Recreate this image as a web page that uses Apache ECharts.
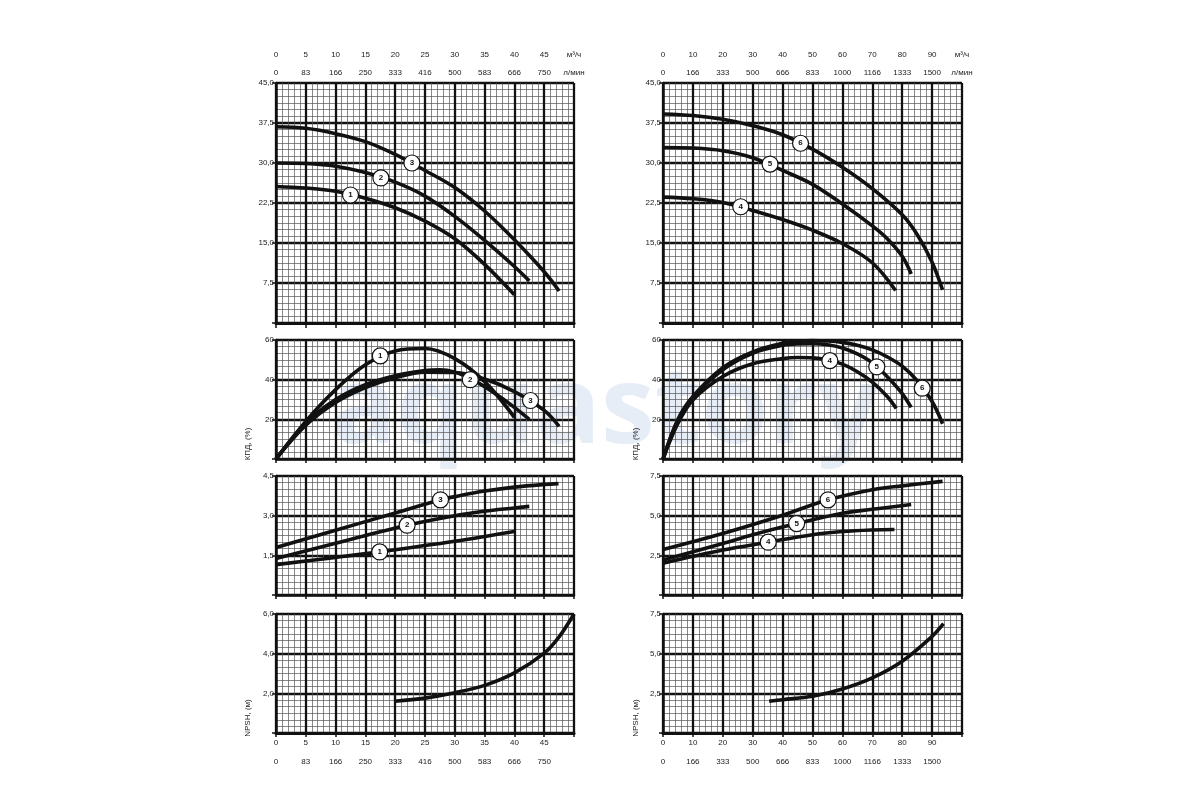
<!DOCTYPE html>
<html>
<head>
<meta charset="utf-8">
<script src="https://cdn.jsdelivr.net/npm/echarts@6.0.0/dist/echarts.min.js"></script>
<style>html,body{margin:0;background:#fff}#chart{width:1200px;height:800px}</style>
</head>
<body>
<div id="chart"></div>
<script>
// tick labels
var flowTicksL = ['0','5','10','15','20','25','30','35','40','45','м³/ч'];
var lpmTicksL = ['0','83','166','250','333','416','500','583','666','750','л/мин'];
var flowTicksR = ['0','10','20','30','40','50','60','70','80','90','м³/ч'];
var lpmTicksR = ['0','166','333','500','666','833','1000','1166','1333','1500','л/мин'];
var headTicks = ['','7,5','15,0','22,5','30,0','37,5','45,0'];
var effTicks = ['','20','40','60'];
var powTicksL = ['','1,5','3,0','4,5'];
var powTicksR = ['','2,5','5,0','7,5'];
var npshTicksL = ['','2,0','4,0','6,0'];
var npshTicksR = ['','2,5','5,0','7,5'];

// head H (m) vs Q (m3/h)
var head1 = [[0,25.6],[5,25.3],[10,24.7],[15,23.4],[20,21.6],[25,19.1],[30,15.8],[35,11.0],[40,5.3]];
var head2 = [[0,30.0],[5,29.9],[10,29.4],[15,28.2],[20,26.4],[25,23.8],[30,20.0],[35,15.5],[40,10.6],[42.5,7.9]];
var head3 = [[0,36.8],[5,36.5],[10,35.5],[15,34.0],[20,31.6],[25,28.6],[30,25.4],[35,21.0],[40,15.6],[45,9.6],[47.5,6.0]];
var head4 = [[0,23.6],[10,23.3],[20,22.6],[30,21.1],[40,19.4],[50,17.4],[60,14.9],[70,11.3],[77.8,6.1]];
var head5 = [[0,32.9],[10,32.8],[20,32.3],[30,31.0],[40,28.6],[50,26.0],[60,22.3],[70,18.2],[75,15.8],[80,12.5],[83,9.2]];
var head6 = [[0,39.2],[10,38.9],[20,38.2],[30,37.0],[40,35.3],[50,32.6],[60,29.2],[70,25.2],[80,20.3],[85,16.6],[90,11.4],[93.5,6.2]];

// efficiency (%)
var eff1 = [[0,0],[5,19],[10,35],[15,47.5],[20,54.5],[25,55.7],[30,50.6],[35,39],[40,21]];
var eff2 = [[0,0],[5,18],[10,30],[15,37.5],[20,42],[25,44.6],[27.5,45],[30,43.8],[32.5,40.6],[35,36.5],[37.5,31.5],[40,26],[42.5,20]];
var eff3 = [[0,0],[5,17],[10,28.5],[15,36],[20,41],[25,43.8],[30,43.6],[35,40.3],[40,34],[45,24.5],[47.5,16.5]];
var eff4 = [[0,0],[5,18],[10,29.8],[20,41.6],[30,48],[40,50.6],[45,51.2],[50,51],[55,49.9],[60,47.8],[65,44],[70,38.8],[75,31.5],[78,25.5]];
var eff5 = [[0,0],[5,19.5],[10,31],[20,45],[30,53.3],[40,57.3],[45,58],[50,58.1],[55,57.6],[60,56],[65,53],[70,48.5],[75,41.5],[80,33],[83,26]];
var eff6 = [[0,0],[5,20],[10,31.5],[20,46],[30,54],[40,58.3],[45,59.3],[50,59.7],[55,59.5],[60,58.8],[65,57.3],[70,55],[75,51.5],[80,46.8],[85,39.5],[90,29],[93.5,17.8]];

// power (kW)
var pow1 = [[0,1.15],[10,1.42],[17.4,1.63],[30,2.03],[40,2.4]];
var pow2 = [[0,1.38],[10,1.96],[22,2.64],[30,3.0],[35,3.17],[40,3.29],[42.5,3.35]];
var pow3 = [[0,1.8],[10,2.45],[20,3.1],[27.6,3.6],[30,3.72],[35,3.93],[40,4.08],[45,4.18],[47.4,4.21]];
var pow4 = [[0,2.0],[20,2.83],[35.2,3.33],[50,3.8],[60,4.0],[70,4.1],[77.4,4.13]];
var pow5 = [[0,2.2],[20,3.25],[30,3.8],[44.7,4.5],[60,5.15],[70,5.4],[83,5.7]];
var pow6 = [[0,2.87],[20,3.88],[40,5.03],[55.2,6.0],[70,6.64],[80,6.88],[93.5,7.16]];

// NPSH (m)
var npshL = [[19.9,1.6],[25,1.76],[30,2.03],[35,2.4],[40,3.03],[45,4.03],[47.5,4.85],[50,6.0]];
var npshR = [[35.5,2.0],[40,2.1],[50,2.31],[60,2.77],[70,3.47],[80,4.52],[90,6.09],[93.8,6.89]];

// curve number badges
var headMarksL = [[12.5,24,'1'],[17.6,27.2,'2'],[22.8,30,'3']];
var headMarksR = [[26,21.8,'4'],[35.8,29.8,'5'],[46,33.7,'6']];
var effMarksL = [[17.5,52,'1'],[32.6,40,'2'],[42.7,29.5,'3']];
var effMarksR = [[55.8,49.6,'4'],[71.5,46.5,'5'],[86.7,35.7,'6']];
var powMarksL = [[17.4,1.63,'1'],[22,2.64,'2'],[27.6,3.6,'3']];
var powMarksR = [[35.2,3.33,'4'],[44.7,4.5,'5'],[55.2,6.0,'6']];

var FONT = 'Liberation Sans';
var INK = '#111';
var cols = [{left: 276, width: 298, max: 50, step: 5, flow: flowTicksL, lpm: lpmTicksL},
            {left: 663, width: 299, max: 100, step: 10, flow: flowTicksR, lpm: lpmTicksR}];
var rows = [{top: 83, height: 240}, {top: 340, height: 119}, {top: 476, height: 119}, {top: 614, height: 119}];
var yDefs = [
  [{max: 45, step: 7.5, ticks: headTicks}, {max: 60, step: 20, ticks: effTicks}, {max: 4.5, step: 1.5, ticks: powTicksL}, {max: 6, step: 2, ticks: npshTicksL}],
  [{max: 45, step: 7.5, ticks: headTicks}, {max: 60, step: 20, ticks: effTicks}, {max: 7.5, step: 2.5, ticks: powTicksR}, {max: 7.5, step: 2.5, ticks: npshTicksR}]
];

var grids = [], xAxes = [], yAxes = [], series = [];
var lbl = {fontFamily: FONT, fontSize: 8, color: '#222'};

cols.forEach(function (c, ci) {
  rows.forEach(function (r, ri) {
    var g = grids.length;
    grids.push({left: c.left, top: r.top, width: c.width, height: r.height});
    var yd = yDefs[ci][ri];
    var isBottom = ri === 3;
    xAxes[g] = {
      type: 'value', gridIndex: g, min: 0, max: c.max, interval: c.step,
      axisLine: {show: true, onZero: false, lineStyle: {color: INK, width: 2.5}},
      axisTick: {show: true, length: 4, lineStyle: {color: INK, width: 1.5}},
      axisLabel: Object.assign({show: isBottom, margin: 6,
        formatter: function (v) { var i = Math.round(v / c.step); return i < 10 ? c.flow[i] : ''; }}, lbl),
      splitLine: {show: true, lineStyle: {color: INK, width: 2.3}},
      minorTick: {show: false, splitNumber: 5},
      minorSplitLine: {show: true, lineStyle: {color: '#555', width: 0.7}}
    };
    yAxes[g] = {
      type: 'value', gridIndex: g, min: 0, max: yd.max, interval: yd.step,
      axisLine: {show: true, onZero: false, lineStyle: {color: INK, width: 2.5}},
      axisTick: {show: true, length: 4, lineStyle: {color: INK, width: 1.5}},
      axisLabel: Object.assign({margin: 2,
        formatter: function (v) { return yd.ticks[Math.round(v / yd.step)]; }}, lbl),
      splitLine: {show: true, lineStyle: {color: INK, width: 2.3}},
      minorTick: {show: false, splitNumber: 6},
      minorSplitLine: {show: true, lineStyle: {color: '#555', width: 0.7}}
    };
  });
});

// flow scales above the head charts and below the NPSH charts
cols.forEach(function (c, ci) {
  var gTop = ci * 4, gBot = ci * 4 + 3;
  var base = {type: 'value', min: 0, max: c.max, interval: c.step, splitLine: {show: false}};
  xAxes.push(Object.assign({}, base, {
    gridIndex: gTop, position: 'top', offset: 20,
    axisLine: {show: true, lineStyle: {color: INK, width: 3}},
    axisTick: {show: true, inside: true, length: 5, lineStyle: {color: INK, width: 1.5}},
    axisLabel: Object.assign({margin: 4, showMaxLabel: true, formatter: function (v) { return c.flow[Math.round(v / c.step)]; }}, lbl)
  }));
  xAxes.push(Object.assign({}, base, {
    gridIndex: gTop, position: 'top', offset: 20,
    axisLine: {show: false}, axisTick: {show: false},
    axisLabel: Object.assign({inside: true, margin: 6, showMaxLabel: true, formatter: function (v) { return c.lpm[Math.round(v / c.step)]; }}, lbl)
  }));
  xAxes.push(Object.assign({}, base, {
    gridIndex: gBot, position: 'bottom', offset: 21,
    axisLine: {show: true, lineStyle: {color: INK, width: 3}},
    axisTick: {show: true, inside: true, length: 4, lineStyle: {color: INK, width: 1.5}},
    axisLabel: Object.assign({margin: 4, formatter: function (v) { var i = Math.round(v / c.step); return i < 10 ? c.lpm[i] : ''; }}, lbl)
  }));
});

function curve(g, data) {
  series.push({type: 'line', xAxisIndex: g, yAxisIndex: g, data: data, smooth: 0.35,
    symbol: 'none', silent: true, z: 3, lineStyle: {color: INK, width: 3.6, cap: 'butt'}});
}
function marks(g, data) {
  series.push({type: 'scatter', xAxisIndex: g, yAxisIndex: g, data: data, symbolSize: 16, z: 5, silent: true,
    itemStyle: {color: '#fff', borderColor: INK, borderWidth: 1.2, opacity: 1},
    label: {show: true, position: 'inside', fontFamily: FONT, fontSize: 8, fontWeight: 'bold', color: INK,
      formatter: function (p) { return p.value[2]; }}});
}

curve(0, head1); curve(0, head2); curve(0, head3); marks(0, headMarksL);
curve(1, eff1); curve(1, eff2); curve(1, eff3); marks(1, effMarksL);
curve(2, pow1); curve(2, pow2); curve(2, pow3); marks(2, powMarksL);
curve(3, npshL);
curve(4, head4); curve(4, head5); curve(4, head6); marks(4, headMarksR);
curve(5, eff4); curve(5, eff5); curve(5, eff6); marks(5, effMarksR);
curve(6, pow4); curve(6, pow5); curve(6, pow6); marks(6, powMarksR);
curve(7, npshR);

function yName(x, y, text) {
  return {type: 'text', x: x, y: y, rotation: Math.PI / 2, z: 10,
    style: {text: text, fontFamily: FONT, fontSize: 8, fill: '#222', align: 'center', verticalAlign: 'middle'}};
}

var chart = echarts.init(document.getElementById('chart'));
chart.setOption({
  backgroundColor: '#fff',
  animation: false,
  grid: grids,
  xAxis: xAxes,
  yAxis: yAxes,
  series: series,
  graphic: [
    {type: 'text', x: 605, y: 412, z: -100,
      style: {text: 'aquastory', fontFamily: 'Open Sans', fontWeight: 'bold', fontSize: 108,
        fill: '#d8e4f2', opacity: 0.65, align: 'center', verticalAlign: 'middle'}},
    yName(248, 444, 'КПД, (%)'),
    yName(248, 718, 'NPSH, (м)'),
    yName(636, 444, 'КПД, (%)'),
    yName(636, 718, 'NPSH, (м)')
  ]
});
</script>
</body>
</html>
